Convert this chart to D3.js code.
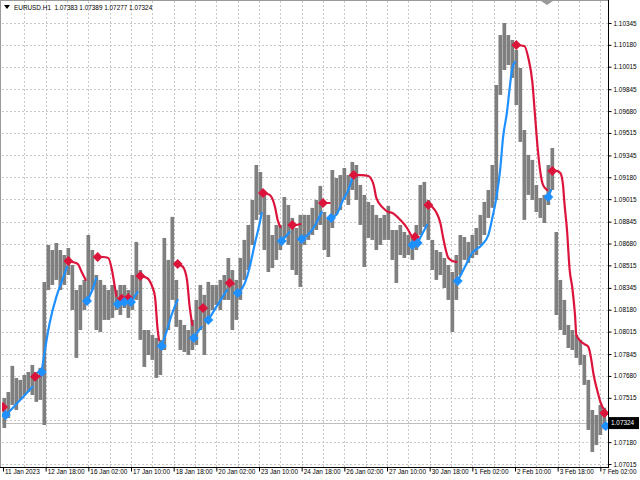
<!DOCTYPE html>
<html><head><meta charset="utf-8">
<script src="https://cdn.jsdelivr.net/npm/d3@7"></script>
<style>
html,body{margin:0;padding:0;background:#fff;}
svg{display:block;}
text{font-family:"Liberation Sans",Arial,sans-serif;}
</style></head><body>
<svg id="chart" width="640" height="480"></svg>
<script>
// ---------- DATA ----------
const symbolName = "EURUSD.H1";
const lastBarOHLC = [1.07383, 1.07389, 1.07277, 1.07324];
const lastClose = 1.07324;

const priceTicks = [1.10345,1.10180,1.10015,1.09845,1.09680,1.09515,1.09345,1.09180,1.09015,1.08845,
  1.08680,1.08515,1.08345,1.08180,1.08015,1.07845,1.07680,1.07515,1.07345,1.07180,1.07015];

const timeLabels = ["11 Jan 2023","12 Jan 18:00","16 Jan 02:00","17 Jan 10:00","18 Jan 18:00",
  "20 Jan 02:00","23 Jan 10:00","24 Jan 18:00","26 Jan 02:00","27 Jan 10:00","30 Jan 18:00",
  "1 Feb 02:00","2 Feb 10:00","3 Feb 18:00","7 Feb 02:00"];
const labelBars = [0,32,64,96,128,160,192,224,256,288,320,352,384,416,448]; // H1 bar index of each label
const totalBars = 453;

// 3-hour bars (high / low)
const highs = [1.07514,1.07559,1.07756,1.07665,1.07650,1.07687,1.07710,1.07763,1.07710,1.07741,
1.08390,1.08669,1.08631,1.08684,1.08631,1.08593,1.08646,1.08518,1.08329,1.08367,
1.08405,1.08744,1.08631,1.08442,1.08405,1.08367,1.08329,1.08367,1.08329,1.08367,
1.08367,1.08329,1.08442,1.08692,1.08480,1.08027,1.08027,1.07989,1.07967,1.07952,
1.08722,1.08556,1.08881,1.08405,1.08103,1.08065,1.08027,1.08103,1.08254,1.08367,
1.08292,1.08390,1.08367,1.08367,1.08405,1.08442,1.08571,1.08480,1.08405,1.08571,
1.08707,1.08820,1.09009,1.09273,1.09220,1.09062,1.08896,1.08744,1.08820,1.08820,
1.09031,1.08971,1.08873,1.08797,1.08896,1.08896,1.08896,1.08949,1.09009,1.09115,
1.08918,1.08873,1.09235,1.09175,1.09197,1.09250,1.09197,1.09296,1.09273,1.09122,
1.09047,1.08994,1.08971,1.08896,1.08873,1.08896,1.08964,1.08782,1.08782,1.08820,
1.08767,1.08744,1.08722,1.08820,1.09122,1.09145,1.09009,1.08707,1.08631,1.08616,
1.08571,1.08518,1.08465,1.08593,1.08744,1.08729,1.08692,1.08744,1.08797,1.08896,
1.08994,1.09084,1.09273,1.09877,1.10254,1.10345,1.10254,1.10217,1.10141,1.10005,
1.09537,1.09349,1.09311,1.09122,1.09024,1.09047,1.09273,1.09401,1.08767,1.08405,
1.08254,1.08065,1.08027,1.07989,1.07952,1.07838,1.07650,1.07423,1.07385,1.07461,
1.07440];
const lows = [1.07287,1.07362,1.07461,1.07423,1.07499,1.07536,1.07559,1.07536,1.07484,1.07499,
1.07309,1.08329,1.08367,1.08405,1.08329,1.08367,1.08442,1.08178,1.07816,1.08027,
1.08178,1.08254,1.08329,1.08027,1.08012,1.08103,1.08103,1.08118,1.08178,1.08140,
1.08193,1.08118,1.08178,1.08254,1.07952,1.07748,1.07838,1.07801,1.07665,1.07687,
1.07876,1.08027,1.08254,1.08050,1.07876,1.07861,1.07838,1.07876,1.07914,1.08027,
1.07838,1.08103,1.08178,1.08216,1.08178,1.08254,1.08254,1.08027,1.08103,1.08254,
1.08405,1.08480,1.08669,1.08858,1.08896,1.08631,1.08465,1.08495,1.08556,1.08631,
1.08722,1.08669,1.08480,1.08442,1.08352,1.08669,1.08707,1.08744,1.08782,1.08820,
1.08631,1.08578,1.08797,1.08896,1.08933,1.09009,1.08971,1.09084,1.09009,1.08820,
1.08503,1.08722,1.08707,1.08631,1.08669,1.08707,1.08707,1.08556,1.08382,1.08593,
1.08571,1.08593,1.08556,1.08631,1.08744,1.08805,1.08707,1.08480,1.08405,1.08442,
1.08344,1.08254,1.08012,1.08254,1.08442,1.08556,1.08533,1.08571,1.08593,1.08669,
1.08744,1.08873,1.08949,1.09009,1.09802,1.09990,1.10028,1.09930,1.09726,1.09447,
1.08858,1.09047,1.09009,1.08918,1.08873,1.08835,1.08971,1.09084,1.08140,1.08027,
1.07989,1.07891,1.07876,1.07816,1.07763,1.07612,1.07272,1.07106,1.07158,1.07234,
1.07277];

// indicator: bearish (red, above price) segments, [H1 bar index, price]
const bearSegments = [
 [[0,1.07446]],
 [[24,1.07673],[28,1.07680]],
 [[49,1.08548],[52,1.08541],[56,1.08526],[59,1.08465],[62,1.08405]],
 [[71,1.08578],[75,1.08578],[79,1.08571],[82,1.08465],[84,1.08344],[85,1.08285]],
 [[89,1.08262],[90,1.08262]],
 [[94,1.08269],[95,1.08269]],
 [[103,1.08435],[108,1.08420],[112,1.08352],[114,1.08277],[116,1.08027],[117,1.07952]],
 [[131,1.08526],[135,1.08503],[138,1.08405],[140,1.08201],[142,1.08065]],
 [[150,1.08193],[152,1.08186]],
 [[170,1.08382],[173,1.08375]],
 [[195,1.09062],[200,1.09047],[204,1.08956],[206,1.08858],[208,1.08805]],
 [[217,1.08820],[220,1.08820],[223,1.08827]],
 [[240,1.08986],[245,1.08986]],
 [[263,1.09197],[269,1.09197],[274,1.09190],[278,1.09122],[280,1.09024],[285,1.08949],[289,1.08918],[292,1.08911],[298,1.08858],[303,1.08797],[306,1.08744]],
 [[309,1.08729],[310,1.08729]],
 [[319,1.08971],[322,1.08956],[328,1.08835],[330,1.08729],[334,1.08571],[337,1.08548],[340,1.08541]],
 [[385,1.10179],[391,1.10171],[394,1.10081],[397,1.09900],[399,1.09650],[401,1.09401],[403,1.09220],[405,1.09122],[408,1.09084]],
 [[412,1.09228],[415,1.09228],[418,1.09212],[420,1.09122],[421,1.08994],[423,1.08782],[425,1.08480],[427,1.08344],[429,1.08140],[430,1.07989],[433,1.07944],[436,1.07921],[439,1.07899],[441,1.07816],[443,1.07687],[446,1.07559],[448,1.07484],[450,1.07438]],
 [[451,1.07400],[452,1.07385]]
];
// indicator: bullish (blue, below price) segments
const bullSegments = [
 [[2,1.07385],[8,1.07446],[15,1.07521],[22,1.07597]],
 [[29,1.07710],[30,1.07778],[35,1.08080],[40,1.08277],[44,1.08390],[48,1.08503]],
 [[63,1.08246],[67,1.08329],[70,1.08420]],
 [[86,1.08224],[88,1.08231]],
 [[91,1.08239],[92,1.08239]],
 [[96,1.08239],[98,1.08269],[101,1.08314]],
 [[119,1.07906],[123,1.08027],[127,1.08156],[131,1.08254]],
 [[143,1.07967],[146,1.08012],[149,1.08050]],
 [[154,1.08103],[160,1.08201],[168,1.08329]],
 [[176,1.08307],[183,1.08427],[185,1.08503],[189,1.08684],[193,1.08858],[194,1.08911]],
 [[209,1.08699],[213,1.08744],[215,1.08767]],
 [[224,1.08714],[230,1.08759],[235,1.08835],[239,1.08918]],
 [[246,1.08873],[250,1.08896],[255,1.09009],[259,1.09084],[262,1.09175]],
 [[307,1.08669],[308,1.08676]],
 [[311,1.08684],[314,1.08744],[318,1.08820]],
 [[341,1.08397],[346,1.08495],[352,1.08609],[359,1.08669],[364,1.08744],[367,1.08873],[370,1.09024],[373,1.09250],[375,1.09477],[378,1.09673],[380,1.09854],[382,1.10005],[384,1.10051]],
 [[409,1.09031],[411,1.09084]],
 [[452,1.07302]]
];

// ---------- CHART ----------
const W = 640, H = 480;
const plotRight = 608, plotBottom = 467;
const x = d3.scaleLinear().domain([0, totalBars]).range([3, 607]);
const y = d3.scaleLinear().domain([priceTicks[priceTicks.length-1], priceTicks[0]]).range([464, 23]);
const barHour = i => i * 3 + 1;   // each drawn bar = 3 H1 bars

const svg = d3.select("#chart");
svg.append("rect").attr("width", W).attr("height", H).attr("fill", "#fff");

svg.append("defs").append("clipPath").attr("id", "clip")
  .append("rect").attr("x", 2).attr("y", 1).attr("width", plotRight - 2).attr("height", plotBottom - 1);

// grid
const grid = svg.append("g").attr("stroke", "#c8c8c8").attr("stroke-width", 1).attr("stroke-dasharray", "2,2");
grid.selectAll("line.h").data(priceTicks).join("line").attr("class", "h")
  .attr("x1", 2).attr("x2", plotRight)
  .attr("y1", d => Math.round(y(d)) + 0.5).attr("y2", d => Math.round(y(d)) + 0.5);
const vGrid = d3.range(16, totalBars, 16);
grid.selectAll("line.v").data(vGrid).join("line").attr("class", "v")
  .attr("y1", 1).attr("y2", plotBottom)
  .attr("x1", d => Math.round(x(d)) + 0.5).attr("x2", d => Math.round(x(d)) + 0.5);

// current price line
svg.append("line").attr("x1", 2).attr("x2", plotRight)
  .attr("y1", Math.round(y(lastClose)) + 0.5).attr("y2", Math.round(y(lastClose)) + 0.5)
  .attr("stroke", "#c0c0c0").attr("stroke-width", 1);

const plotG = svg.append("g").attr("clip-path", "url(#clip)");

// price bars
plotG.append("g").selectAll("line").data(highs).join("line")
  .attr("x1", (d, i) => x(barHour(i))).attr("x2", (d, i) => x(barHour(i)))
  .attr("y1", d => y(d)).attr("y2", (d, i) => y(lows[i]))
  .attr("stroke", "#7f7f7f").attr("stroke-width", 3.7);

// indicator lines
const line = d3.line().x(d => x(d[0])).y(d => y(d[1])).curve(d3.curveMonotoneX);
const RED = "#dc143c", BLUE = "#1e90ff";
function drawSegs(segs, color) {
  plotG.append("g").selectAll("path").data(segs.filter(s => s.length > 1)).join("path")
    .attr("d", line).attr("fill", "none").attr("stroke", color).attr("stroke-width", 2.2)
    .attr("stroke-linejoin", "round").attr("stroke-linecap", "round");
}
drawSegs(bearSegments, RED);
drawSegs(bullSegments, BLUE);
function drawMarks(segs, color) {
  plotG.append("g").selectAll("path").data(segs.map(s => s[0])).join("path")
    .attr("d", d3.symbol().type(d3.symbolSquare).size(50))
    .attr("transform", d => `translate(${x(d[0])},${y(d[1])}) rotate(45)`)
    .attr("fill", color);
}
drawMarks(bearSegments, RED);
drawMarks(bullSegments, BLUE);

// frame
svg.append("rect").attr("x", 0.5).attr("y", 0.5).attr("width", plotRight).attr("height", plotBottom)
  .attr("fill", "none").attr("stroke", "#9a9a9a");
svg.append("line").attr("x1", plotRight + 0.5).attr("x2", plotRight + 0.5).attr("y1", 0).attr("y2", plotBottom + 1)
  .attr("stroke", "#000");
svg.append("line").attr("x1", 0).attr("x2", plotRight + 1).attr("y1", plotBottom + 0.5).attr("y2", plotBottom + 0.5)
  .attr("stroke", "#000");

// right axis (the label hidden behind the current-price box is not printed)
const cy = y(lastClose);
const yAxis = svg.append("g").attr("transform", `translate(${plotRight + 0.5},0)`)
  .call(d3.axisRight(y).tickValues(priceTicks)
    .tickFormat(d => Math.abs(y(d) - cy) < 9 ? "" : d3.format(".5f")(d)).tickSize(3).tickPadding(2));
yAxis.select(".domain").remove();
yAxis.selectAll("text").attr("font-size", "6.4px").attr("fill", "#000").attr("font-family", "Liberation Sans, Arial, sans-serif");
yAxis.selectAll("line").attr("stroke", "#000");

// bottom axis
const xAxis = svg.append("g").attr("transform", `translate(0,${plotBottom + 0.5})`)
  .call(d3.axisBottom(x).tickValues(labelBars).tickFormat((d, i) => timeLabels[i]).tickSize(4));
xAxis.select(".domain").remove();
xAxis.selectAll("line").attr("stroke", "#000");
xAxis.selectAll("text").attr("text-anchor", "start").attr("x", 1.5).attr("y", 2).attr("dy", "0.71em")
  .attr("font-size", "6.4px").attr("fill", "#000").attr("font-family", "Liberation Sans, Arial, sans-serif");

// current price label
svg.append("rect").attr("x", plotRight + 1).attr("y", cy - 6).attr("width", 30).attr("height", 12).attr("fill", "#000");
svg.append("text").attr("x", plotRight + 3).attr("y", cy + 2.3).attr("fill", "#fff").attr("font-size", "6.4px")
  .text(d3.format(".5f")(lastClose));

// header
svg.append("path").attr("d", "M4,5 L10,5 L7,9 Z").attr("fill", "#000");
svg.append("text").attr("x", 14).attr("y", 10).attr("font-size", "6.4px").attr("fill", "#000")
  .attr("xml:space", "preserve")
  .text(symbolName + "  " + lastBarOHLC.map(d3.format(".5f")).join(" "));

// chart shift marker
svg.append("path").attr("d", "M541,1 L553,1 L547,5 Z").attr("fill", "#9a9a9a");
</script>
</body></html>
